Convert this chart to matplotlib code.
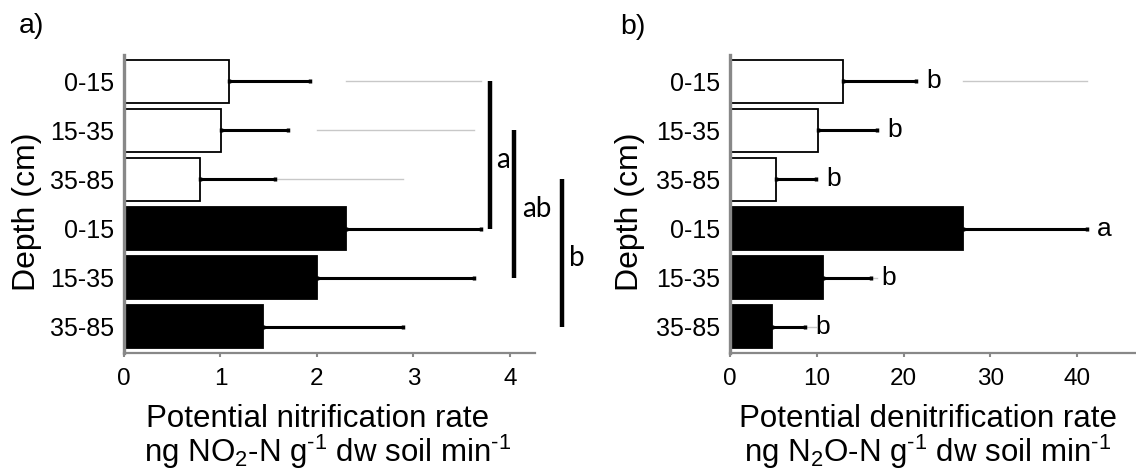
import matplotlib.pyplot as plt

plt.rcParams['font.family'] = ['Liberation Sans', 'DejaVu Sans']
plt.rcParams['mathtext.fontset'] = 'custom'
plt.rcParams['mathtext.rm'] = 'Liberation Sans'

depths = ["0-15", "15-35", "35-85", "0-15", "15-35", "35-85"]

# panel a: potential nitrification (white = first group, black = second group)
nit_white = [1.09, 1.01, 0.79]
nit_white_se = [0.84, 0.69, 0.77]
nit_black = [2.30, 2.00, 1.44]
nit_black_se = [1.40, 1.63, 1.45]
nit_groups = ["a", "ab", "b"]
nit_group_span = [(0, 3), (1, 4), (2, 5)]

# panel b: potential denitrification
den_white = [13.0, 10.2, 5.3]
den_white_se = [8.4, 6.7, 4.6]
den_black = [26.9, 10.7, 4.8]
den_black_se = [14.2, 5.5, 3.8]
den_letters = ["b", "b", "b", "a", "b", "b"]

W, H = 1136, 472
fig = plt.figure(figsize=(W / 100, H / 100), dpi=100)
grey = "#888888"


def px(x, y):
    return x / W, 1 - y / H


def panel(ax, white, white_se, black, black_se, xmax, ticks):
    vals = white + black
    ses = white_se + black_se
    pos = list(range(6))
    colors = ["white"] * 3 + ["black"] * 3
    # faint duplicated error bars behind the bars
    ghost_vals = black + white
    ghost_se = black_se + white_se
    for p, v, s in zip(pos, ghost_vals, ghost_se):
        ax.plot([v, v + s], [p, p], color="#c8c8c8", lw=1, zorder=1)
    ax.barh(pos, vals, height=0.88, color=colors, edgecolor="black",
            linewidth=1.3, zorder=2)
    ax.errorbar(vals, pos, xerr=[[0] * 6, ses], fmt="none", ecolor="black",
                elinewidth=2.2, capsize=1.5, capthick=2.5, zorder=3)
    ax.set_ylim(5.54, -0.54)
    ax.set_xlim(0, xmax)
    ax.set_yticks(pos)
    ax.set_yticklabels(depths, fontsize=18)
    ax.set_xticks(ticks)
    ax.tick_params(axis="y", length=0, pad=7)
    ax.tick_params(axis="x", length=3, width=1.5, color=grey, labelsize=17.5, pad=8)
    for s in ["top", "right"]:
        ax.spines[s].set_visible(False)
    ax.spines["left"].set_color(grey)
    ax.spines["left"].set_linewidth(2.4)
    ax.spines["bottom"].set_color(grey)
    ax.spines["bottom"].set_linewidth(1.6)
    ax.set_facecolor("none")


ax1 = fig.add_axes([124 / W, 1 - 353 / H, (535 - 124) / W, (353 - 55) / H])
panel(ax1, nit_white, nit_white_se, nit_black, nit_black_se, 4.26, [0, 1, 2, 3, 4])

bracket_x = [3.79, 4.04, 4.54]
label_x = [3.93, 4.28, 4.69]
for (y0, y1), bx, lx, lab in zip(nit_group_span, bracket_x, label_x, nit_groups):
    ax1.plot([bx, bx], [y0, y1], color="black", lw=3.2, clip_on=False,
             solid_capstyle="butt")
    ax1.text(lx, (y0 + y1) / 2 + 0.1, lab, fontsize=20, family="Lato",
             ha="center", va="center", clip_on=False)

ax2 = fig.add_axes([730 / W, 1 - 353 / H, (1136 - 730) / W, (353 - 55) / H])
panel(ax2, den_white, den_white_se, den_black, den_black_se, 46.8, [0, 10, 20, 30, 40])
den_vals = den_white + den_black
den_se = den_white_se + den_black_se
for p, v, s, lab in zip(range(6), den_vals, den_se, den_letters):
    ax2.annotate(lab, (v + s, p), xytext=(13, 0), textcoords="offset points",
                 fontsize=19, ha="center", va="center")

# labels
fig.text(*px(27, 212), "Depth (cm)", rotation=90, fontsize=23, ha="center", va="center")
fig.text(*px(630, 212), "Depth (cm)", rotation=90, fontsize=23, ha="center", va="center")
fig.text(*px(31, 26), "a)", fontsize=20.5, ha="center", va="center")
fig.text(*px(633, 27), "b)", fontsize=20.5, ha="center", va="center")

sup = r"$\mathregular{^{\u2010 1}}$".replace(r"\u2010 ", "\u2010")
sub2 = r"$\mathregular{_2}$"
fig.text(*px(318, 427), "Potential nitrification rate", fontsize=22.5,
         ha="center", va="baseline")
fig.text(*px(328, 462), "ng NO" + sub2 + "-N g" + sup + " dw soil min" + sup,
         fontsize=22.5, ha="center", va="baseline")
fig.text(*px(928, 427), "Potential denitrification rate", fontsize=22.5,
         ha="center", va="baseline")
fig.text(*px(928, 462), "ng N" + sub2 + "O-N g" + sup + " dw soil min" + sup,
         fontsize=22.5, ha="center", va="baseline")

fig.savefig("out.png", dpi=100)
